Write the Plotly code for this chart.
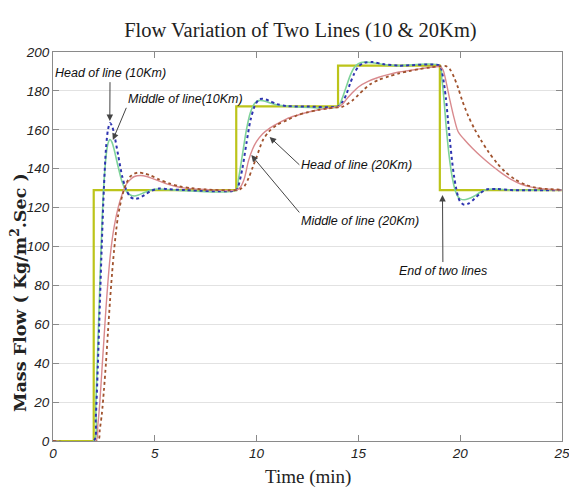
import plotly.graph_objects as go

# ---------------- data ----------------
step_t = [0, 2, 9, 14, 19, 25]
step_v = [0, 129, 172, 193, 129, 129]

head10_t = [0, 2.0, 2.1, 2.2, 2.3, 2.4, 2.5, 2.6, 2.7, 2.8, 2.9, 3.0, 3.2, 3.4, 3.6, 3.8, 4.0, 4.2, 4.5, 4.8, 5.2, 5.6, 6.5, 9.0,
            9.1, 9.3, 9.5, 9.7, 9.9, 10.1, 10.3, 10.6, 11.0, 11.5, 12.5, 14.0,
            14.2, 14.4, 14.6, 14.8, 15.0, 15.3, 15.7, 16.2, 17.0, 19.0,
            19.1, 19.2, 19.3, 19.4, 19.5, 19.6, 19.7, 19.8, 19.9, 20.0, 20.2, 20.4, 20.7, 21.0, 21.3, 21.8, 22.5, 25]
head10_v = [0, 0, 12, 38, 70, 102, 130, 150, 160, 163.5, 162, 158, 147, 136, 129, 125.5, 124.5, 124.8, 126.5, 128.5, 129.8, 129.5, 129, 129,
            131, 140, 153, 165, 172, 175.5, 176, 175, 173.2, 172.2, 172, 172,
            174, 178, 184, 189, 192.5, 194.5, 194.8, 193.8, 193, 193,
            190, 184, 176, 165, 154, 144, 136, 130, 125.5, 123, 121.5, 122, 124.5, 127.5, 129.3, 129.6, 129, 129]

mid10_t = [0, 2.0, 2.1, 2.2, 2.3, 2.4, 2.5, 2.6, 2.7, 2.8, 2.9, 3.0, 3.2, 3.4, 3.6, 3.8, 4.0, 4.2, 4.5, 4.8, 5.2, 6.0, 9.0,
           9.1, 9.3, 9.5, 9.7, 9.9, 10.1, 10.3, 10.6, 11.0, 11.5, 14.0,
           14.2, 14.4, 14.6, 14.8, 15.0, 15.3, 15.7, 16.2, 17.0, 19.0,
           19.1, 19.2, 19.3, 19.4, 19.5, 19.6, 19.7, 19.8, 19.9, 20.0, 20.2, 20.4, 20.7, 21.0, 21.3, 21.8, 22.5, 25]
mid10_v = [0, 0, 18, 48, 80, 110, 132, 146, 153, 155, 153.5, 150, 141, 133, 128.5, 126.5, 126, 126.5, 127.8, 129, 129.5, 129, 129,
           134, 147, 160, 169, 173.5, 175, 175, 174, 172.8, 172.2, 172,
           176, 182, 188, 192, 194, 194.8, 194.5, 193.6, 193, 193,
           186, 176, 163, 152, 143, 136, 131, 127.5, 125.5, 124.5, 124, 124.5, 126, 128, 129.3, 129.5, 129, 129]

head20_t = [0, 2.1, 2.2, 2.3, 2.4, 2.5, 2.6, 2.7, 2.8, 2.9, 3.0, 3.2, 3.4, 3.6, 3.8, 4.0, 4.3, 4.6, 5.0, 5.5, 6.0, 6.5, 7.5, 9.0,
            9.2, 9.4, 9.6, 9.8, 10.0, 10.3, 10.6, 11.0, 11.5, 12.0, 12.5, 13.0, 13.5, 14.0,
            14.2, 14.4, 14.7, 15.0, 15.5, 16.0, 16.5, 17.0, 17.5, 18.0, 18.5, 19.0,
            19.15, 19.3, 19.5, 19.7, 19.9, 20.2, 20.6, 21.0, 21.5, 22.0, 22.5, 23.0, 23.5, 24.0, 25]
head20_v = [0, 0, 8, 20, 36, 52, 68, 82, 94, 103, 110, 120, 127, 132, 134.5, 136, 136.5, 136, 134.5, 132.5, 131, 130, 129.3, 129,
            130.5, 135, 144, 150, 154, 158, 160.5, 163, 165.8, 167.5, 169, 170.2, 171, 171.8,
            173, 175.5, 179, 182, 185, 187, 188.5, 189.7, 190.5, 191.3, 192, 192.5,
            191, 185, 175, 166, 159, 155, 150.5, 146.5, 142, 138, 134.5, 132, 130.5, 129.7, 129]

mid20_t = [0, 2.2, 2.3, 2.4, 2.5, 2.6, 2.7, 2.8, 2.9, 3.0, 3.1, 3.2, 3.4, 3.6, 3.8, 4.0, 4.2, 4.5, 4.8, 5.2, 5.7, 6.2, 6.8, 7.5, 9.0,
           9.2, 9.4, 9.6, 9.8, 10.0, 10.3, 10.6, 11.0, 11.5, 12.0, 12.5, 13.0, 13.5, 14.0,
           14.2, 14.4, 14.7, 15.0, 15.3, 15.6, 16.0, 16.5, 17.0, 17.5, 18.0, 18.5, 19.0,
           19.3, 19.5, 19.7, 19.9, 20.1, 20.4, 20.7, 21.0, 21.4, 21.8, 22.2, 22.7, 23.2, 23.7, 24.2, 25]
mid20_v = [0, 0, 6, 14, 26, 40, 56, 72, 86, 98, 108, 116, 126, 132.5, 136, 137.5, 138, 137.5, 136.5, 134.5, 132.5, 131, 130, 129.3, 129,
           129.5, 131, 135, 140.5, 146, 154.5, 159, 162.5, 165, 167.5, 169, 170.2, 171, 171.5,
           171.8, 172.8, 175, 178, 181, 183.5, 185.7, 187.5, 189, 190.2, 191.2, 192, 192.7,
           192.7, 191, 187, 181.5, 175, 167, 160.5, 155, 148.5, 143, 138.5, 134.5, 131.8, 130.3, 129.6, 129.2]

x_ticks = [0, 5, 10, 15, 20, 25]
y_ticks = [0, 20, 40, 60, 80, 100, 120, 140, 160, 180, 200]

# ---------------- figure ----------------
NARROW = "Liberation Sans Narrow, Liberation Sans, Arial, sans-serif"
SERIF = "Liberation Serif, DejaVu Serif, serif"

fig = go.Figure()
fig.add_trace(go.Scatter(x=step_t, y=step_v, mode="lines", line=dict(color="#bcc41a", width=2.2, shape="hv"),
                         name="Inlet"))
fig.add_trace(go.Scatter(x=mid10_t, y=mid10_v, mode="lines",
                         line=dict(color="#7fd39a", width=1.6, shape="spline", smoothing=0.8), name="Middle 10Km"))
fig.add_trace(go.Scatter(x=head10_t, y=head10_v, mode="lines",
                         line=dict(color="#2e34b0", width=2, dash="dot", shape="spline", smoothing=0.8), name="Head 10Km"))
fig.add_trace(go.Scatter(x=head20_t, y=head20_v, mode="lines",
                         line=dict(color="#d98a8e", width=1.4, shape="spline", smoothing=0.8), name="Head 20Km"))
fig.add_trace(go.Scatter(x=mid20_t, y=mid20_v, mode="lines",
                         line=dict(color="#a0522d", width=1.8, dash="dot", shape="spline", smoothing=0.8), name="Middle 20Km"))

ann_font = dict(family=NARROW, size=12.5, color="#111111", style="italic")

def callout(txt, x, y, ax, ay, xanchor, yanchor):
    # text box anchored at the arrow tail (ax, ay); arrow head at (x, y)
    fig.add_annotation(x=x, y=y, ax=ax, ay=ay, xref="x", yref="y", axref="x", ayref="y",
                       text=txt, font=ann_font, xanchor=xanchor, yanchor=yanchor,
                       showarrow=True, arrowhead=2, arrowsize=1.3, arrowwidth=1, arrowcolor="#444444")

callout("Head of line (10Km)", 2.79, 164.5, 2.8, 184.5, "center", "bottom")
callout("Middle of line(10Km)", 2.94, 154.8, 3.6, 171.3, "left", "bottom")
callout("Head of line (20Km)", 10.64, 156.3, 12.1, 142.0, "left", "middle")
callout("Middle of line (20Km)", 9.74, 147, 12.1, 117.5, "left", "top")
callout("End of two lines", 19.13, 126.5, 19.15, 92.0, "center", "top")

# axis titles as annotations
fig.add_annotation(x=-0.069, y=0.383, xref="paper", yref="paper", textangle=-90, showarrow=False,
                   xanchor="center", yanchor="middle",
                   text="<b>Mass Flow ( Kg/m<sup>2</sup>.Sec )</b>",
                   font=dict(family="DejaVu Serif, serif", size=17.5, color="#222222"))
fig.add_annotation(x=0.5, y=-0.0925, xref="paper", yref="paper", showarrow=False, yanchor="middle",
                   text="Time (min)", font=dict(family=SERIF, size=19, color="#222222"))

axis_common = dict(showline=True, linecolor="#8a8a8a", linewidth=1.2, mirror="ticks", ticks="inside",
                   ticklen=6, tickcolor="#8a8a8a", zeroline=False, automargin=False,
                   tickfont=dict(family=NARROW, size=13.5, color="#222222", style="italic"))

fig.update_xaxes(range=[0, 25], tickvals=x_ticks, ticktext=[str(v) for v in x_ticks], showgrid=False,
                 ticklabeloverflow="allow", **axis_common)
fig.update_yaxes(range=[0, 200], tickvals=y_ticks, ticktext=[str(v) for v in y_ticks], showgrid=True,
                 gridcolor="#e2e2e2", gridwidth=1, **axis_common)

fig.update_layout(
    width=569, height=493,
    margin=dict(l=53, r=7, t=52, b=52, autoexpand=False),
    paper_bgcolor="white", plot_bgcolor="white",
    showlegend=False,
    title=dict(text="Flow Variation of Two Lines (10 &amp; 20Km)", x=0.528, xanchor="center",
               y=1 - 30 / 493, yanchor="middle", yref="container",
               font=dict(family=SERIF, size=20.5, color="#222222")),
)

# remove the default page margin so the figure fills the window exactly
fig.write_html("out.html", config={"displayModeBar": False},
               post_script="document.body.style.margin='0px';document.body.style.overflow='hidden';")
